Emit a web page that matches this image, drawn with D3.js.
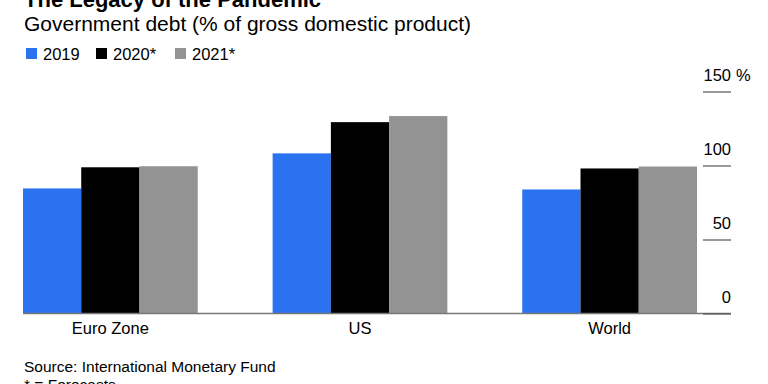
<!DOCTYPE html>
<html lang="en">
<head>
    <meta charset="utf8">
    <title>The Legacy of the Pandemic</title>
    <script src="https://d3js.org/d3.v7.min.js"></script>
    <style>
        body { margin: 0; background: #fff; }
        svg { display: block; font-family: "Liberation Sans", Arial, sans-serif; }
    </style>
</head>
<body>
    <svg id="chart" width="768" height="384"></svg>
    <script>
        // data
        const regions = ["Euro Zone", "US", "World"];
        const years = ["2019", "2020*", "2021*"];
        const debt2019 = [84.5, 108.2, 83.8];
        const debt2020 = [98.8, 129.3, 98.0];
        const debt2021 = [99.5, 133.4, 99.3];
        const yTicks = [0, 50, 100, 150];
        const colors = ["#2a72f0", "#000000", "#939393"];

        const series = [debt2019, debt2020, debt2021];

        const svg = d3.select("#chart");

        const x = d3.scaleBand().domain(regions).range([23, 697]).paddingInner(0.3).paddingOuter(0);
        const xs = d3.scaleBand().domain(years).range([0, x.bandwidth()]);
        const y = d3.scaleLinear().domain([0, 150]).range([313.5, 91.5]);

        // titles
        svg.append("text").attr("x", 24).attr("y", 7)
           .attr("font-size", 22).attr("font-weight", "bold").text("The Legacy of the Pandemic");
        svg.append("text").attr("x", 24).attr("y", 31)
           .attr("font-size", 21).text("Government debt (% of gross domestic product)");

        // legend
        const legend = svg.append("g");
        const legX = [26, 96, 175];
        years.forEach((yr, i) => {
            legend.append("rect").attr("x", legX[i]).attr("y", 48).attr("width", 11).attr("height", 11)
                  .attr("fill", colors[i]);
            legend.append("text").attr("x", legX[i] + 17).attr("y", 59.5)
                  .attr("font-size", 16.5).text(yr);
        });

        // bars
        const groups = svg.selectAll("g.region")
            .data(regions)
            .enter()
            .append("g")
            .attr("class", "region")
            .attr("transform", d => `translate(${x(d)},0)`);

        groups.selectAll("rect")
            .data((d, ri) => years.map((yr, si) => ({ yr, si, v: series[si][ri] })))
            .enter()
            .append("rect")
            .attr("x", d => xs(d.yr))
            .attr("y", d => y(d.v))
            .attr("width", xs.bandwidth())
            .attr("height", d => y(0) - y(d.v))
            .attr("fill", d => colors[d.si]);

        // baseline
        svg.append("line")
           .attr("x1", 23).attr("x2", 731)
           .attr("y1", y(0)).attr("y2", y(0))
           .attr("stroke", "#777").attr("stroke-width", 1.5);

        // y axis on the right
        const yAxis = svg.append("g")
            .attr("transform", "translate(703,0)")
            .call(d3.axisRight(y).tickValues(yTicks).tickSize(28).tickFormat(d3.format("d")));
        yAxis.select(".domain").remove();
        yAxis.selectAll(".tick line").attr("stroke", "#555").attr("stroke-width", 1.2);
        yAxis.selectAll(".tick text")
             .attr("x", 28).attr("dy", "-0.65em")
             .attr("text-anchor", "end")
             .attr("font-size", 16.5)
             .attr("font-family", "Liberation Sans, Arial, sans-serif")
             .attr("fill", "#000");
        svg.append("text").attr("x", 736).attr("y", y(150) - 10.5)
           .attr("font-size", 16.5).text("%");

        // category labels
        svg.selectAll("text.cat")
           .data(regions)
           .enter()
           .append("text")
           .attr("class", "cat")
           .attr("x", d => x(d) + x.bandwidth() / 2)
           .attr("y", 334)
           .attr("text-anchor", "middle")
           .attr("font-size", 16.5)
           .text(d => d);

        // footer
        svg.append("text").attr("x", 24).attr("y", 372).attr("font-size", 15.5)
           .text("Source: International Monetary Fund");
        svg.append("text").attr("x", 24).attr("y", 390).attr("font-size", 15.5)
           .text("* = Forecasts");
    </script>
</body>
</html>
